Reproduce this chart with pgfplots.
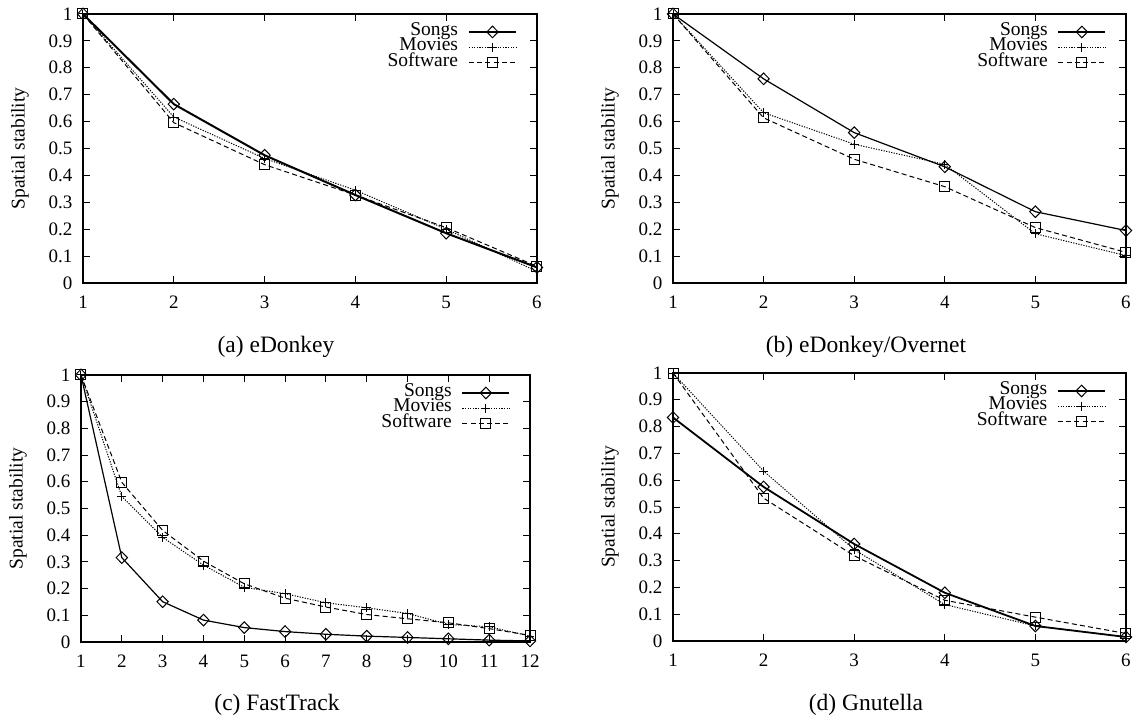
\documentclass[border=0pt]{standalone}
\usepackage{fontspec}
\setmainfont{Liberation Serif}
\usepackage{pgfplots}
\pgfplotsset{compat=1.18}

\pgfplotsset{
  gp/.style={
    scale only axis,
    anchor=south west,
    ymin=0, ymax=1, xmin=1,
    clip=false,
    tick align=inside,
    xtick pos=both, ytick pos=both,
    xticklabel pos=left, yticklabel pos=left,
    major tick length=3.5pt,
    every tick/.style={black, line width=0.5pt},
    axis line style={line width=0.6pt},
    ytick={0,0.1,0.2,0.3,0.4,0.5,0.6,0.7,0.8,0.9,1},
    yticklabels={0,0.1,0.2,0.3,0.4,0.5,0.6,0.7,0.8,0.9,1},
    tick label style={font=\fontsize{9.5}{10}\selectfont},
    xticklabel style={yshift=-2.8pt},
    yticklabel style={xshift=-1.8pt},
    ylabel={Spatial stability},
    label style={font=\fontsize{9.75}{10}\selectfont},
    legend cell align=right,
    legend plot pos=right,
    legend style={draw=none, fill=none, at={(rel axis cs:1,1)}, anchor=north east,
      xshift=-10pt, yshift=-5.1pt, inner sep=0pt, outer sep=0pt,
      row sep=0pt, column sep=5pt,
      font=\fontsize{9.75}{9.75}\selectfont,
      nodes={inner sep=0pt, text height=5.5pt, text depth=2.25pt}},
    legend image code/.code={\draw[mark repeat=2,mark phase=2] plot coordinates {(0pt,0pt) (11.75pt,0pt) (23.5pt,0pt)};},
  },
  songs/.style={black, solid, mark=diamond, mark size=2.9pt, mark options={solid, xscale=1.3, line width=0.5pt}},
  movies/.style={black, line width=0.5pt, dash pattern=on 0.6pt off 0.7pt, mark=+, mark size=2.2pt, mark options={solid}},
  software/.style={black, line width=0.5pt, dash pattern=on 2.5pt off 1.6pt, mark=square, mark size=2.5pt, mark options={solid}},
}

\begin{document}
\begin{tikzpicture}
\path[use as bounding box] (0,0) rectangle (570.5pt,362pt);

% (a) eDonkey
\begin{axis}[gp, at={(41.5pt,220.5pt)}, width=227pt, height=134.5pt, xmax=6,
  xtick={1,2,3,4,5,6}, xticklabels={1,2,3,4,5,6},
  ylabel style={at={(axis description cs:-0.1388,0.5)}, anchor=center}]
\addplot[songs, line width=1pt] coordinates {(1,1)(2,0.665)(3,0.475)(4,0.327)(5,0.185)(6,0.058)};
\addlegendentry{Songs}
\addplot[movies] coordinates {(1,1)(2,0.617)(3,0.463)(4,0.345)(5,0.2)(6,0.043)};
\addlegendentry{Movies}
\addplot[software] coordinates {(1,1)(2,0.596)(3,0.44)(4,0.327)(5,0.206)(6,0.062)};
\addlegendentry{Software}
\end{axis}

% (b) eDonkey/Overnet
\begin{axis}[gp, at={(336.5pt,220.5pt)}, width=226.5pt, height=134.5pt, xmax=6,
  xtick={1,2,3,4,5,6}, xticklabels={1,2,3,4,5,6},
  ylabel style={at={(axis description cs:-0.1391,0.5)}, anchor=center}]
\addplot[songs, line width=0.6pt] coordinates {(1,1)(2,0.759)(3,0.559)(4,0.432)(5,0.265)(6,0.195)};
\addlegendentry{Songs}
\addplot[movies] coordinates {(1,1)(2,0.633)(3,0.516)(4,0.441)(5,0.183)(6,0.102)};
\addlegendentry{Movies}
\addplot[software] coordinates {(1,1)(2,0.614)(3,0.46)(4,0.358)(5,0.206)(6,0.114)};
\addlegendentry{Software}
\end{axis}

% (c) FastTrack
\begin{axis}[gp, at={(40.5pt,41pt)}, width=224.5pt, height=133.5pt, xmax=12,
  xtick={1,2,3,4,5,6,7,8,9,10,11,12}, xticklabels={1,2,3,4,5,6,7,8,9,10,11,12},
  ylabel style={at={(axis description cs:-0.1403,0.5)}, anchor=center}]
\addplot[songs, line width=0.6pt] coordinates {(1,1)(2,0.316)(3,0.151)(4,0.082)(5,0.054)(6,0.039)(7,0.029)(8,0.022)(9,0.017)(10,0.012)(11,0.007)(12,0.004)};
\addlegendentry{Songs}
\addplot[movies] coordinates {(1,1)(2,0.545)(3,0.392)(4,0.288)(5,0.205)(6,0.181)(7,0.147)(8,0.128)(9,0.107)(10,0.066)(11,0.057)(12,0.022)};
\addlegendentry{Movies}
\addplot[software] coordinates {(1,1)(2,0.598)(3,0.418)(4,0.303)(5,0.218)(6,0.164)(7,0.131)(8,0.103)(9,0.087)(10,0.072)(11,0.05)(12,0.025)};
\addlegendentry{Software}
\end{axis}

% (d) Gnutella
\begin{axis}[gp, at={(336.5pt,41.5pt)}, width=226.5pt, height=134pt, xmax=6,
  xtick={1,2,3,4,5,6}, xticklabels={1,2,3,4,5,6},
  ylabel style={at={(axis description cs:-0.1391,0.5)}, anchor=center}]
\addplot[songs, line width=0.9pt] coordinates {(1,0.834)(2,0.575)(3,0.362)(4,0.18)(5,0.056)(6,0.015)};
\addlegendentry{Songs}
\addplot[movies] coordinates {(1,1)(2,0.634)(3,0.341)(4,0.136)(5,0.056)(6,0.015)};
\addlegendentry{Movies}
\addplot[software] coordinates {(1,1)(2,0.533)(3,0.318)(4,0.152)(5,0.089)(6,0.028)};
\addlegendentry{Software}
\end{axis}

\node[font=\fontsize{11.75}{12}\selectfont] at (138pt,188.5pt) {(a) eDonkey};
\node[font=\fontsize{11.75}{12}\selectfont] at (433pt,188.5pt) {(b) eDonkey/Overnet};
\node[font=\fontsize{11.75}{12}\selectfont] at (138.5pt,9.5pt) {(c) FastTrack};
\node[font=\fontsize{11.75}{12}\selectfont] at (433pt,9.5pt) {(d) Gnutella};
\end{tikzpicture}
\end{document}
